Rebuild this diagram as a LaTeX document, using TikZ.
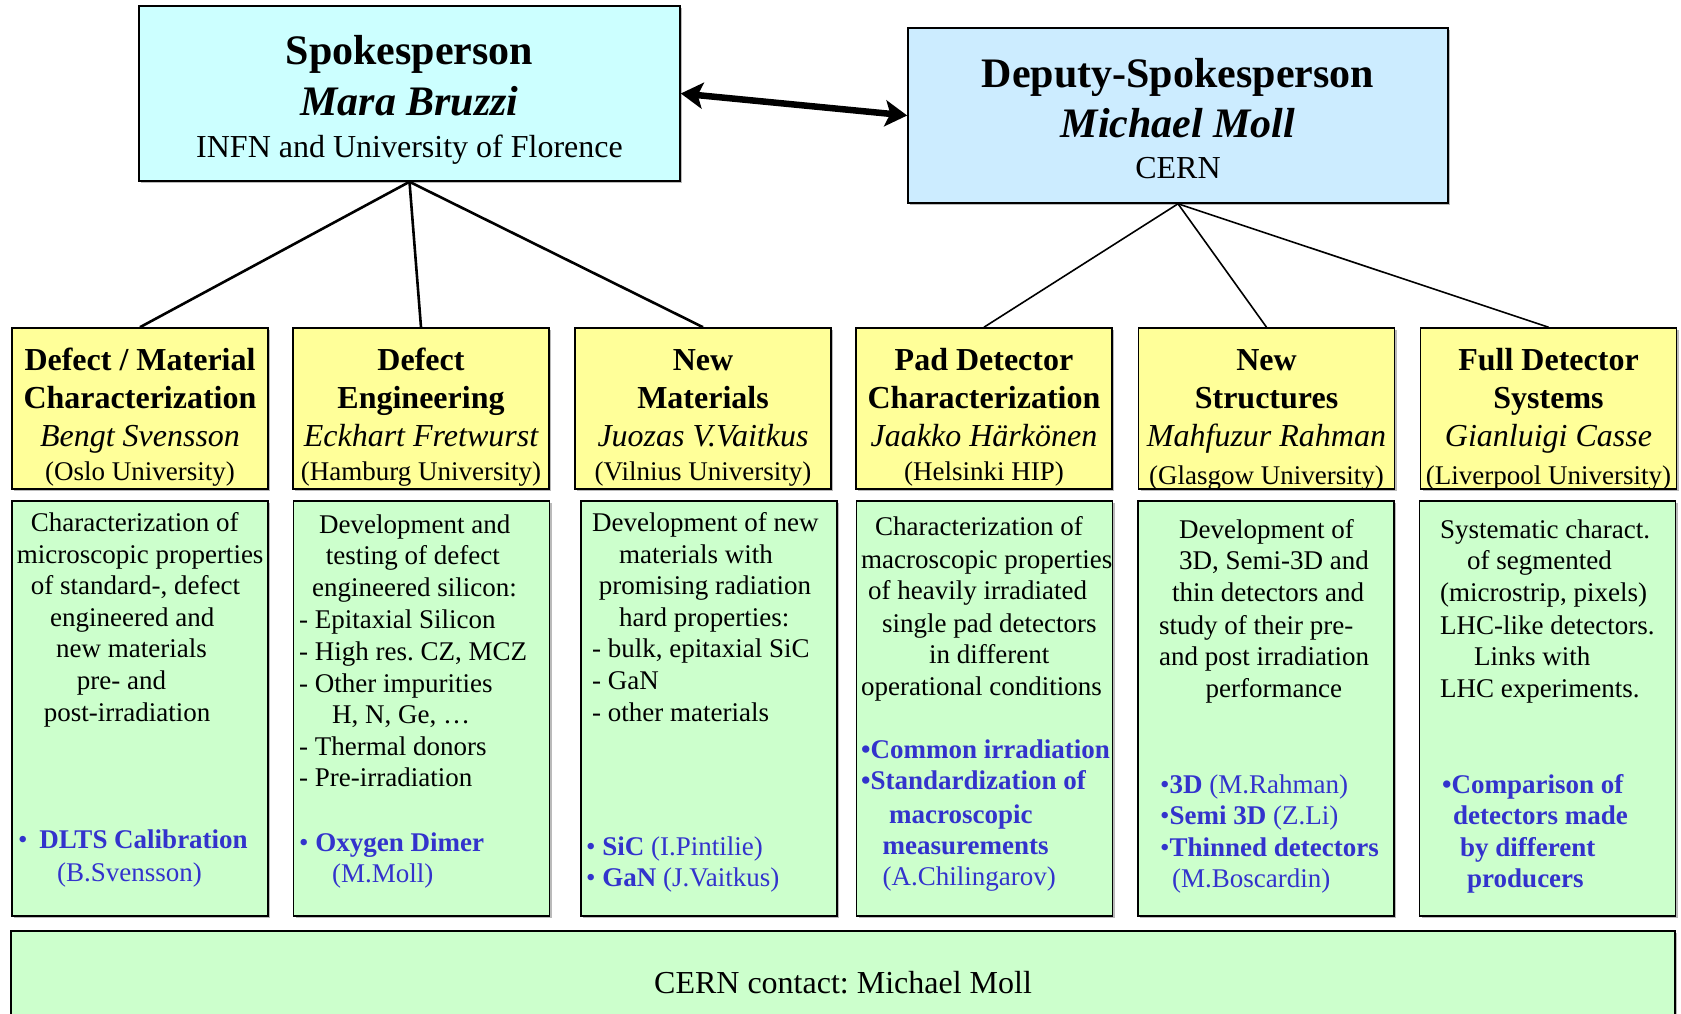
\documentclass[tikz,border=0pt]{standalone}
\usepackage{fontspec}
\setmainfont{Liberation Serif}
\usetikzlibrary{arrows.meta,shadows}
\frenchspacing
\definecolor{spfill}{HTML}{CCFFFF}
\definecolor{dpfill}{HTML}{CCECFF}
\definecolor{yfill}{HTML}{FFFF99}
\definecolor{gfill}{HTML}{CCFFCC}
\definecolor{tblue}{HTML}{3333CC}
\newcommand{\fbig}{\fontsize{42}{48}\selectfont}
\newcommand{\fmid}{\fontsize{32}{37}\selectfont}
\newcommand{\fsma}{\fontsize{27}{32}\selectfont}
\tikzset{
  box/.style={draw=black, line width=1.6pt, inner sep=0pt,
    drop shadow={shadow xshift=2pt, shadow yshift=-2pt, opacity=0.45, fill=black!60}},
  spbox/.style={box, fill=spfill, minimum width=541pt, minimum height=175pt},
  dpbox/.style={box, fill=dpfill, minimum width=540pt, minimum height=175pt},
  ybox/.style={box, fill=yfill, minimum width=256pt, minimum height=161pt},
  gbox/.style={box, fill=gfill, minimum width=256pt, minimum height=415pt},
  cbox/.style={box, fill=gfill, minimum width=1664pt, minimum height=109pt},
  lnB/.style={inner sep=0pt, anchor=base, yshift=-13.9pt},
  lnM/.style={inner sep=0pt, anchor=base, yshift=-10.6pt},
  lnS/.style={inner sep=0pt, anchor=base, yshift=-8.9pt},
  gl/.style={inner sep=0pt, anchor=base west, yshift=-8.9pt, font=\fsma},
  bl/.style={gl, text=tblue},
  conn/.style={line width=2.6pt},
  conn2/.style={line width=1.6pt},
  bigarrow/.style={line width=6.5pt, {Stealth[length=22pt,width=26pt,inset=5pt]}-{Stealth[length=22pt,width=26pt,inset=5pt]}},
}
\begin{document}
\begin{tikzpicture}[x=1pt,y=-1pt]
\useasboundingbox (0,0) rectangle (1681,1014);
% top boxes
\node[spbox] (sp) at (409.5,93.5) {};
\node[dpbox] (dp) at (1178,115.5) {};
\node[lnB,font=\fbig\bfseries] (spt1) at (409.5,51) {Spokesperson};
\node[lnB,font=\fbig\bfseries\itshape] (spt2) at (409.5,102) {Mara Bruzzi};
\node[lnM,font=\fmid] (spt3) at (409.5,147) {INFN and University of Florence};
\node[lnB,font=\fbig\bfseries] (dpt1) at (1178,74) {Deputy-Spokesperson};
\node[lnB,font=\fbig\bfseries\itshape] (dpt2) at (1178,124) {Michael Moll};
\node[lnM,font=\fmid] (dpt3) at (1178,168) {CERN};
\draw[bigarrow] (sp.east) -- (dp.west);
% yellow boxes
\node[ybox] (y1) at (140,408.5) {};
\node[ybox] (y2) at (421,408.5) {};
\node[ybox] (y3) at (703,408.5) {};
\node[ybox] (y4) at (984,408.5) {};
\node[ybox] (y5) at (1266.5,408.5) {};
\node[ybox] (y6) at (1548.5,408.5) {};
% green boxes
\node[gbox] (g1) at (140,708.5) {};
\node[gbox] (g2) at (421.5,708.5) {};
\node[gbox] (g3) at (709,708.5) {};
\node[gbox] (g4) at (984.5,708.5) {};
\node[gbox] (g5) at (1266,708.5) {};
\node[gbox] (g6) at (1547.5,708.5) {};
% bottom box
\node[cbox] (cb) at (843,985.5) {};
\node[lnM,font=\fmid] (cbt) at (843,983) {CERN contact: Michael Moll};
% connectors
\draw[conn] (sp.south) -- (y1.north);
\draw[conn] (sp.south) -- (y2.north);
\draw[conn] (sp.south) -- (y3.north);
\draw[conn2] (dp.south) -- (y4.north);
\draw[conn2] (dp.south) -- (y5.north);
\draw[conn2] (dp.south) -- (y6.north);
% yellow texts
\node[lnM,font=\fmid\bfseries] (y1a) at (140,360) {Defect / Material};
\node[lnM,font=\fmid\bfseries] (y1b) at (140,398) {Characterization};
\node[lnM,font=\fmid\itshape] (y1c) at (140,436) {Bengt Svensson};
\node[lnS,font=\fsma] (y1d) at (140,472) {(Oslo University)};
\node[lnM,font=\fmid\bfseries] (y2a) at (421,360) {Defect};
\node[lnM,font=\fmid\bfseries] (y2b) at (421,398) {Engineering};
\node[lnM,font=\fmid\itshape] (y2c) at (421,436) {Eckhart Fretwurst};
\node[lnS,font=\fsma] (y2d) at (421,472) {(Hamburg University)};
\node[lnM,font=\fmid\bfseries] (y3a) at (703,360) {New};
\node[lnM,font=\fmid\bfseries] (y3b) at (703,398) {Materials};
\node[lnM,font=\fmid\itshape] (y3c) at (703,436) {Juozas V.Vaitkus};
\node[lnS,font=\fsma] (y3d) at (703,472) {(Vilnius University)};
\node[lnM,font=\fmid\bfseries] (y4a) at (984,360) {Pad Detector};
\node[lnM,font=\fmid\bfseries] (y4b) at (984,398) {Characterization};
\node[lnM,font=\fmid\itshape] (y4c) at (984,436) {Jaakko Härkönen};
\node[lnS,font=\fsma] (y4d) at (984,472) {(Helsinki HIP)};
\node[lnM,font=\fmid\bfseries] (y5a) at (1266.5,360) {New};
\node[lnM,font=\fmid\bfseries] (y5b) at (1266.5,398) {Structures};
\node[lnM,font=\fmid\itshape] (y5c) at (1266.5,436) {Mahfuzur Rahman};
\node[lnS,font=\fsma] (y5d) at (1266.5,476) {(Glasgow University)};
\node[lnM,font=\fmid\bfseries] (y6a) at (1548.5,360) {Full Detector};
\node[lnM,font=\fmid\bfseries] (y6b) at (1548.5,398) {Systems};
\node[lnM,font=\fmid\itshape] (y6c) at (1548.5,436) {Gianluigi Casse};
\node[lnS,font=\fsma] (y6d) at (1548.5,476) {(Liverpool University)};
% green box 1
\node[gl] (g1a) at (30.7,523) {Characterization of};
\node[gl] (g1b) at (16.6,554.6) {microscopic properties};
\node[gl] (g1c) at (30.7,586) {of standard-, defect};
\node[gl] (g1d) at (50,617.5) {engineered and};
\node[gl] (g1e) at (56,649) {new materials};
\node[gl] (g1f) at (76.6,681) {pre- and};
\node[gl] (g1g) at (43.7,712.5) {post-irradiation};
\node[bl] (g1h) at (17.8,840) {•\hspace{12pt}\textbf{DLTS Calibration}};
\node[bl] (g1i) at (57,872.5) {(B.Svensson)};
% green box 2
\node[gl] (g2a) at (319,525) {Development and};
\node[gl] (g2b) at (325.6,556) {testing of defect};
\node[gl] (g2c) at (312,588) {engineered silicon:};
\node[gl] (g2d) at (299,620) {- Epitaxial Silicon};
\node[gl] (g2e) at (299,651.6) {- High res. CZ, MCZ};
\node[gl] (g2f) at (299,683.7) {- Other impurities};
\node[gl] (g2g) at (332,715) {H, N, Ge, …};
\node[gl] (g2h) at (299,746.6) {- Thermal donors};
\node[gl] (g2i) at (299,778) {- Pre-irradiation};
\node[bl] (g2j) at (299,842.6) {• \textbf{Oxygen Dimer}};
\node[bl] (g2k) at (332,874) {(M.Moll)};
% green box 3
\node[gl] (g3a) at (592,523) {Development of new};
\node[gl] (g3b) at (619,554.6) {materials with};
\node[gl] (g3c) at (598.6,586) {promising radiation};
\node[gl] (g3d) at (619,617.5) {hard properties:};
\node[gl] (g3e) at (592,649) {- bulk, epitaxial SiC};
\node[gl] (g3f) at (592,681) {- GaN};
\node[gl] (g3g) at (592,712.5) {- other materials};
\node[bl] (g3h) at (586,847) {• \textbf{SiC} (I.Pintilie)};
\node[bl] (g3i) at (586,878) {• \textbf{GaN} (J.Vaitkus)};
% green box 4
\node[gl] (g4a) at (875,527) {Characterization of};
\node[gl] (g4b) at (861,560) {macroscopic properties};
\node[gl] (g4c) at (868,591) {of heavily irradiated};
\node[gl] (g4d) at (882,624) {single pad detectors};
\node[gl] (g4e) at (929,655) {in different};
\node[gl] (g4f) at (861,687) {operational conditions};
\node[bl,font=\fsma\bfseries] (g4g) at (861,750) {•Common irradiation};
\node[bl,font=\fsma\bfseries] (g4h) at (861,781) {•Standardization of};
\node[bl,font=\fsma\bfseries] (g4i) at (889,814.5) {macroscopic};
\node[bl,font=\fsma\bfseries] (g4j) at (882.5,846) {measurements};
\node[bl] (g4k) at (882.5,877) {(A.Chilingarov)};
% green box 5
\node[gl] (g5a) at (1179,529.7) {Development of};
\node[gl] (g5b) at (1179,561) {3D, Semi-3D and};
\node[gl] (g5c) at (1172,593) {thin detectors and};
\node[gl] (g5d) at (1159,625.8) {study of their pre-};
\node[gl] (g5e) at (1159,657) {and post irradiation};
\node[gl] (g5f) at (1205.5,688.7) {performance};
\node[bl] (g5g) at (1160,784.7) {•\textbf{3D} (M.Rahman)};
\node[bl] (g5h) at (1160,816) {•\textbf{Semi 3D} (Z.Li)};
\node[bl] (g5i) at (1160,847.6) {•\textbf{Thinned detectors}};
\node[bl] (g5j) at (1172,879) {(M.Boscardin)};
% green box 6
\node[gl] (g6a) at (1440,529.7) {Systematic charact.};
\node[gl] (g6b) at (1467,561) {of segmented};
\node[gl] (g6c) at (1440,593) {(microstrip, pixels)};
\node[gl] (g6d) at (1440,625.8) {LHC-like detectors.};
\node[gl] (g6e) at (1474,657) {Links with};
\node[gl] (g6f) at (1440,688.7) {LHC experiments.};
\node[bl,font=\fsma\bfseries] (g6g) at (1442,784.7) {•Comparison of};
\node[bl,font=\fsma\bfseries] (g6h) at (1453,816) {detectors made};
\node[bl,font=\fsma\bfseries] (g6i) at (1460,847.6) {by different};
\node[bl,font=\fsma\bfseries] (g6j) at (1467,879) {producers};
\end{tikzpicture}
\end{document}
